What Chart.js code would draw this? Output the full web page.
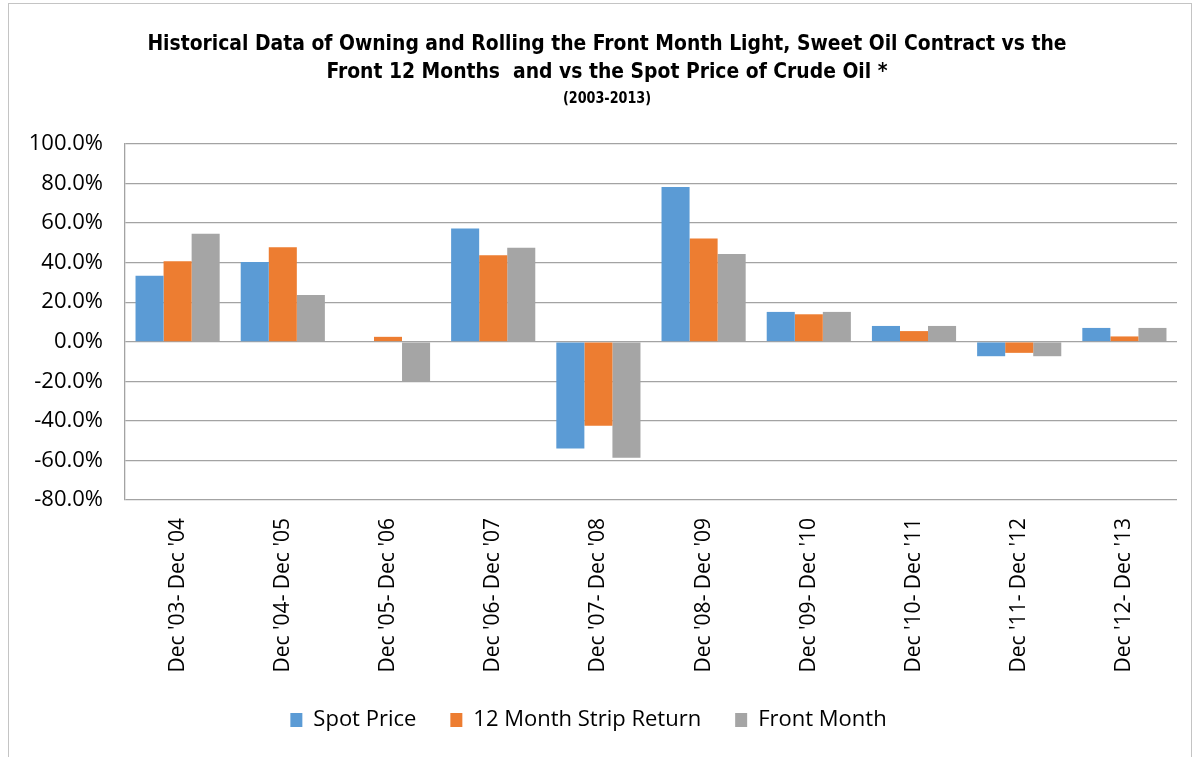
<!DOCTYPE html>
<html>
<head>
<meta charset="utf-8">
<script src="https://cdn.jsdelivr.net/npm/chart.js@4.4.1/dist/chart.umd.min.js"></script>
<style>
  html, body { margin: 0; padding: 0; background: #fff; }
  #wrap { position: relative; width: 1197px; height: 757px; }
  #frame { position: absolute; left: 8px; top: 3px; width: 1184px; height: 770px; border: 1px solid #c4c4c4; box-sizing: border-box; }
  canvas { position: absolute; left: 0; top: 0; }
</style>
</head>
<body>
<div id="wrap">
  <div id="frame"></div>
  <canvas id="oil" width="1197" height="757"></canvas>
</div>
<script>
const periods = ["Dec '03- Dec '04", "Dec '04- Dec '05", "Dec '05- Dec '06", "Dec '06- Dec '07", "Dec '07- Dec '08",
                 "Dec '08- Dec '09", "Dec '09- Dec '10", "Dec '10- Dec '11", "Dec '11- Dec '12", "Dec '12- Dec '13"];
// returns in percent
const spotPrice  = [33.4, 40.3, 0.0, 57.3, -53.9, 78.3, 15.1, 8.0, -7.3, 7.0];
const stripReturn = [40.7, 47.8, 2.5, 43.7, -42.4, 52.2, 13.9, 5.4, -5.6, 2.7];
const frontMonth = [54.6, 23.6, -19.8, 47.5, -58.6, 44.4, 15.1, 8.0, -7.3, 7.0];

const titleLines = ['Historical Data of Owning and Rolling the Front Month Light, Sweet Oil Contract vs the',
                    'Front 12 Months  and vs the Spot Price of Crude Oil *'];
const subTitle = '(2003-2013)';

const font = "'Open Sans', 'DejaVu Sans', sans-serif";
const narrow = "'Liberation Sans Narrow', 'DejaVu Sans Condensed', sans-serif";

// title is drawn by hand, squeezed a bit since there is no calibri here
const titlePlugin = {
    id: 'bigTitle',
    afterDraw(chart) {
        const c = chart.ctx;
        c.save();
        c.fillStyle = '#000';
        c.textAlign = 'center';
        c.textBaseline = 'middle';
        c.translate(607, 0);
        c.scale(0.948, 1);
        c.font = 'bold 22px ' + narrow;
        c.fillText(titleLines[0], 0, 44);
        c.fillText(titleLines[1], 0, 72);
        c.font = 'bold 15px ' + narrow;
        c.fillText(subTitle, 0, 99);
        c.restore();
    }
};

const gridCol = '#a3a3a3';

new Chart(document.getElementById('oil'), {
    type: 'bar',
    data: {
        labels: periods,
        datasets: [
            { label: 'Spot Price', data: spotPrice, backgroundColor: '#5b9bd5' },
            { label: '12 Month Strip Return', data: stripReturn, backgroundColor: '#ed7d31' },
            { label: 'Front Month', data: frontMonth, backgroundColor: '#a5a5a5' }
        ]
    },
    options: {
        responsive: false,
        animation: false,
        categoryPercentage: 0.8,
        barPercentage: 1.0,
        layout: { padding: { top: 144, right: 20, bottom: 16, left: 0 } },
        scales: {
            x: {
                grid: { display: false, drawTicks: false },
                border: { display: false },
                ticks: {
                    minRotation: 90, maxRotation: 90, autoSkip: false,
                    padding: 18, color: '#000',
                    font: { family: font, size: 21 }
                },
                afterFit(scale) { scale.height = 175; }
            },
            y: {
                min: -80, max: 100,
                ticks: {
                    stepSize: 20, padding: 22, color: '#000',
                    font: { family: font, size: 22 },
                    callback: v => v.toFixed(1) + '%'
                },
                grid: { color: gridCol, lineWidth: 1.3, drawTicks: false },
                border: { display: true, color: gridCol, width: 1.3 },
                afterFit(scale) { scale.width = 125; }
            }
        },
        plugins: {
            legend: {
                position: 'bottom',
                labels: {
                    boxWidth: 12, boxHeight: 14, padding: 34, color: '#000',
                    font: { family: font, size: 22 }
                }
            },
            tooltip: { enabled: false }
        }
    },
    plugins: [titlePlugin]
});
</script>
</body>
</html>
